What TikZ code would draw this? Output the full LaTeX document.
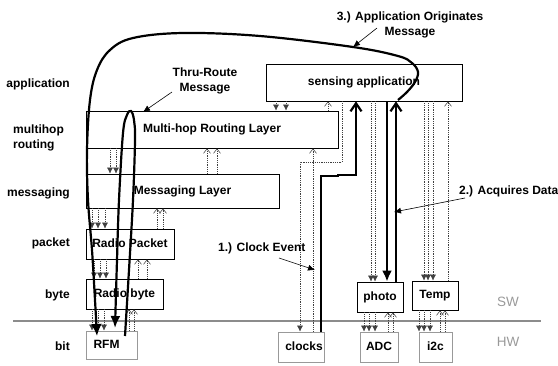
\documentclass[tikz,border=0pt]{standalone}
\usepackage{fontspec}
\setmainfont{Liberation Sans}
\usetikzlibrary{arrows.meta}
\newcommand\dlink[4]{\draw[#1] (#2,0 |- #3) -- (#2,0 |- #4);}
\begin{document}
\begin{tikzpicture}[x=1pt,y=-1pt,
  font=\fontsize{12}{15}\selectfont\bfseries,
  box/.style={draw=black, line width=0.8pt, inner sep=0pt, align=center, text height=8.5pt, text depth=2.5pt},
  gbox/.style={box, draw=black!40},
  lbl/.style={inner sep=0pt, text height=8.5pt, text depth=2.5pt},
  dn/.style={draw=black!75, line width=0.55pt, dash pattern=on 1pt off 0.8pt, -{Latex[length=6pt,width=6pt]}},
  upa/.style={draw=black!75, line width=0.55pt, dash pattern=on 1pt off 0.8pt, -{Straight Barb[length=4.5pt,width=7pt]}},
  thk/.style={line width=2.2pt},
  note/.style={line width=0.6pt, -{Latex[length=7pt,width=6pt]}},
  hwsw/.style={inner sep=0pt, text=black!40, font=\fontsize{13.5}{16}\selectfont\mdseries},
]
\useasboundingbox (0,0) rectangle (558,365);

% separator
\draw[line width=2.5pt, black!45] (13,321) -- (541,321);

% left layer labels
\node[lbl, anchor=east] (lapp) at (70,84) {application};
\node[inner sep=0pt, align=left, anchor=west] (lmh) at (13,137.5) {multihop\\routing};
\node[lbl, anchor=east] (lmsg) at (70,193) {messaging};
\node[lbl, anchor=east] (lpk) at (70,243) {packet};
\node[lbl, anchor=east] (lby) at (70,295) {byte};
\node[lbl, anchor=east] (lbit) at (70,347) {bit};
\node[hwsw] (sw) at (508,302) {SW};
\node[hwsw] (hw) at (508,342) {HW};

% boxes
\node[box, minimum width=196pt, minimum height=37pt] (app) at (364,82.5) {sensing application};
\node[box, minimum width=252pt, minimum height=37pt] (mh) at (212,129.5) {Multi-hop Routing Layer};
\node[box, minimum width=193pt, minimum height=34pt] (msg) at (182.5,191) {Messaging Layer};
\node[box, minimum width=88pt, minimum height=30pt] (rp) at (130,244) {Radio Packet};
\node[box, minimum width=77pt, minimum height=30pt] (rb) at (124.5,294) {Radio byte};
\node[gbox, minimum width=51pt, minimum height=28pt] (rfm) at (111.5,345) {RFM\hspace{10pt}};
\node[gbox, minimum width=46pt, minimum height=30pt] (clk) at (301,347) {\hspace{6pt}clocks};
\node[gbox, minimum width=38pt, minimum height=30pt] (adc) at (379,347) {ADC};
\node[gbox, minimum width=33pt, minimum height=30pt] (i2c) at (435.5,347) {i2c};
\node[box, minimum width=46pt, minimum height=30pt] (photo) at (380,297) {photo};
\node[box, minimum width=46pt, minimum height=29pt] (temp) at (435,295.5) {Temp};

% dotted interface arrows
\dlink{dn}{276}{app.south}{mh.north}
\dlink{dn}{286}{app.south}{mh.north}
\dlink{upa}{328}{mh.north}{app.south}
\draw[dn] (342,0 |- app.south) -- (342,162) -- (300,162) -- (300,0 |- clk.north);
\dlink{upa}{313}{clk.north}{mh.south}
\dlink{dn}{110}{mh.south}{msg.north}
\dlink{dn}{116}{mh.south}{msg.north}
\dlink{upa}{207}{msg.north}{mh.south}
\dlink{upa}{217}{msg.north}{mh.south}
\dlink{dn}{92}{msg.south}{rp.north}
\dlink{dn}{98}{msg.south}{rp.north}
\dlink{dn}{105}{msg.south}{rp.north}
\dlink{upa}{157}{rp.north}{msg.south}
\dlink{upa}{163}{rp.north}{msg.south}
\dlink{dn}{94}{rp.south}{rb.north}
\dlink{dn}{100}{rp.south}{rb.north}
\dlink{dn}{106}{rp.south}{rb.north}
\dlink{upa}{138}{rb.north}{rp.south}
\dlink{upa}{147}{rb.north}{rp.south}
\dlink{dn}{92}{rb.south}{rfm.north}
\dlink{dn}{98}{rb.south}{rfm.north}
\dlink{dn}{104}{rb.south}{rfm.north}
\dlink{upa}{129}{rfm.north}{rb.south}
\dlink{upa}{134}{rfm.north}{rb.south}
\dlink{dn}{371}{app.south}{photo.north}
\dlink{dn}{375}{app.south}{photo.north}
\dlink{dn}{424}{app.south}{temp.north}
\dlink{dn}{428}{app.south}{temp.north}
\dlink{dn}{433}{app.south}{temp.north}
\dlink{upa}{448}{temp.north}{app.south}
\dlink{dn}{364}{photo.south}{adc.north}
\dlink{dn}{369}{photo.south}{adc.north}
\dlink{dn}{375}{photo.south}{adc.north}
\dlink{upa}{388}{adc.north}{photo.south}
\dlink{upa}{393}{adc.north}{photo.south}
\dlink{dn}{419}{temp.south}{i2c.north}
\dlink{dn}{424}{temp.south}{i2c.north}
\dlink{dn}{430}{temp.south}{i2c.north}
\dlink{upa}{440}{i2c.north}{temp.south}
\dlink{upa}{445}{i2c.north}{temp.south}

% thick flows
\draw[thk, -{Straight Barb[length=8pt,width=11pt]}] (321,0 |- clk.north) -- (321,176) -- (338,176) -- (338,175) -- (356,175) -- (356,0 |- app.south);
\draw[thk, -{Latex[length=11pt,width=10pt]}] (387,0 |- app.south) -- (387,0 |- photo.north);
\draw[thk, -{Straight Barb[length=8pt,width=11pt]}] (396,0 |- photo.north) -- (396,0 |- app.south);
\draw[thk, -{Latex[length=12pt,width=11pt]}] plot[smooth, tension=0.6] coordinates {(398,100) (407,92) (415,82) (418,72) (412,63) (398,56) (353,47) (260,36) (183,33) (133,38) (110,50) (97,70) (90,100) (87,150) (88,200) (92,250) (95,300) (97,336)};
\draw[thk, -{Latex[length=12pt,width=10pt]}] plot[smooth, tension=0.6] coordinates {(125,336) (129,270) (133,200) (135,140) (134,120) (131,111) (127,115) (123,133) (119,200) (117,260) (115,328)};

% annotations
\node[inner sep=0pt, align=center] (t3) at (410,24.5) {3.) Application Originates\\Message};
\node[inner sep=0pt, align=center] (tthru) at (205,81) {Thru-Route\\Message};
\node[lbl, anchor=west] (t2) at (459,191) {2.) Acquires Data};
\node[lbl, anchor=west] (t1) at (218,248) {1.) Clock Event};
\coordinate (a3s) at (377,28); \coordinate (a3e) at (353,47);
\coordinate (ats) at (172,92); \coordinate (ate) at (143,112);
\coordinate (a2s) at (465,198); \coordinate (a2e) at (394,212);
\coordinate (a1s) at (279,258); \coordinate (a1e) at (315,270);
\draw[note] (a3s) -- (a3e);
\draw[note] (ats) -- (ate);
\draw[note] (a2s) -- (a2e);
\draw[note] (a1s) -- (a1e);
\end{tikzpicture}
\end{document}
